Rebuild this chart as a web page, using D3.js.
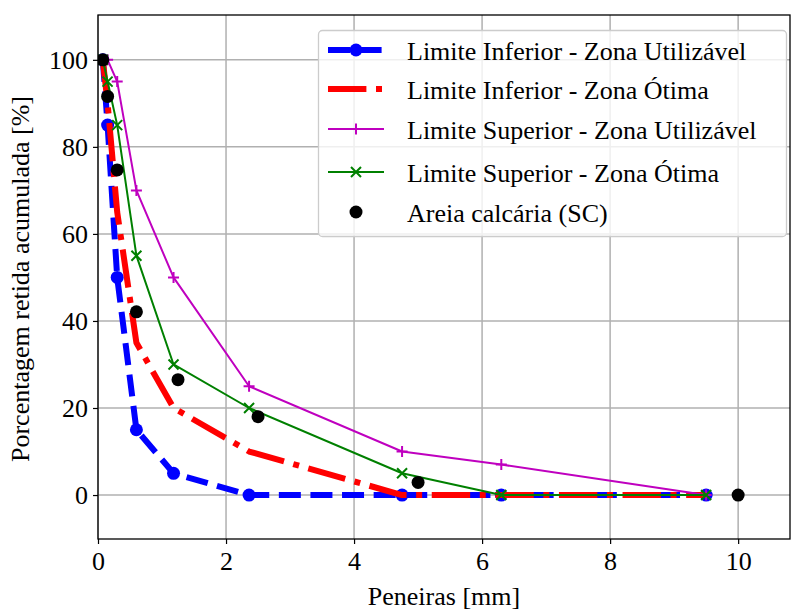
<!DOCTYPE html>
<html>
<head>
<meta charset="utf-8">
<script src="https://cdn.jsdelivr.net/npm/d3@7"></script>
<style>
body { margin: 0; background: #fff; }
svg, svg text { font-family: "Liberation Serif", "Times New Roman", Times, "DejaVu Serif", serif !important; }
</style>
</head>
<body>
<script>
var width = 791;
var height = 610;

var margin = {top: 15, left: 98, right: 1, bottom: 71};

// peneiras (mm)
var sieves = [0.075, 0.15, 0.3, 0.6, 1.18, 2.36, 4.75, 6.3, 9.5];

var infUtil = [100, 85, 50, 15, 5, 0, 0, 0, 0];
var infOtima = [100, 90, 65, 35, 20, 10, 0, 0, 0];
var supUtil = [100, 100, 95, 70, 50, 25, 10, 7, 0];
var supOtima = [100, 95, 85, 55, 30, 20, 5, 0, 0];

var sandX = [0.075, 0.15, 0.3, 0.6, 1.25, 2.5, 5, 10];
var sandY = [100, 91.6, 74.7, 42.1, 26.5, 18, 2.9, 0];

var xTicks = [0, 2, 4, 6, 8, 10];
var yTicks = [0, 20, 40, 60, 80, 100];

var serif = "'Liberation Serif', 'Times New Roman', Times, 'DejaVu Serif', serif";
var fontSize = 26;

var svg = d3.select("body")
  .append("svg")
  .attr("width", width)
  .attr("height", height)
  .attr("font-family", serif);

var xScale = d3.scaleLinear()
  .domain([0, 10.81])
  .range([margin.left, width - margin.right]);

var yScale = d3.scaleLinear()
  .domain([-10.1, 110.3])
  .range([height - margin.bottom, margin.top]);

// grid
svg.append("g")
  .selectAll("line")
  .data(xTicks)
  .enter().append("line")
  .attr("x1", function(d) { return xScale(d); })
  .attr("x2", function(d) { return xScale(d); })
  .attr("y1", margin.top)
  .attr("y2", height - margin.bottom)
  .attr("stroke", "#b0b0b0")
  .attr("stroke-width", 1.5);

svg.append("g")
  .selectAll("line")
  .data(yTicks)
  .enter().append("line")
  .attr("x1", margin.left)
  .attr("x2", width - margin.right)
  .attr("y1", function(d) { return yScale(d); })
  .attr("y2", function(d) { return yScale(d); })
  .attr("stroke", "#b0b0b0")
  .attr("stroke-width", 1.5);

svg.append("clipPath")
  .attr("id", "plotclip")
  .append("rect")
  .attr("x", margin.left)
  .attr("y", margin.top)
  .attr("width", width - margin.right - margin.left)
  .attr("height", height - margin.bottom - margin.top);

var plot = svg.append("g").attr("clip-path", "url(#plotclip)");

var line = d3.line()
  .x(function(d) { return xScale(d[0]); })
  .y(function(d) { return yScale(d[1]); });

function pairs(xs, ys) {
  return xs.map(function(x, i) { return [x, ys[i]]; });
}

var series = [
  {name: "Limite Inferior - Zona Utilizável", ys: infUtil, color: "blue", lw: 6, dash: "22,9.6", marker: "o"},
  {name: "Limite Inferior - Zona Ótima", ys: infOtima, color: "red", lw: 6, dash: "38.4,9.6,6,9.6", marker: null},
  {name: "Limite Superior - Zona Utilizável", ys: supUtil, color: "#bf00bf", lw: 2, dash: null, marker: "+"},
  {name: "Limite Superior - Zona Ótima", ys: supOtima, color: "green", lw: 2, dash: null, marker: "x"}
];

function drawMarker(g, type, color, cx, cy) {
  if (type === "o" || type === "dot") {
    g.append("circle").attr("cx", cx).attr("cy", cy).attr("r", 6.5).attr("fill", color);
  } else if (type === "+") {
    g.append("path")
      .attr("d", "M" + (cx - 5.5) + "," + cy + "h11M" + cx + "," + (cy - 5.5) + "v11")
      .attr("stroke", color).attr("stroke-width", 2).attr("fill", "none");
  } else if (type === "x") {
    g.append("path")
      .attr("d", "M" + (cx - 5) + "," + (cy - 5) + "l10,10M" + (cx - 5) + "," + (cy + 5) + "l10,-10")
      .attr("stroke", color).attr("stroke-width", 2).attr("fill", "none");
  }
}

series.forEach(function(s) {
  var pts = pairs(sieves, s.ys);
  plot.append("path")
    .datum(pts)
    .attr("d", line)
    .attr("fill", "none")
    .attr("stroke", s.color)
    .attr("stroke-width", s.lw)
    .attr("stroke-linejoin", "round")
    .attr("stroke-dasharray", s.dash);
  if (s.marker) {
    pts.forEach(function(p) {
      drawMarker(plot, s.marker, s.color, xScale(p[0]), yScale(p[1]));
    });
  }
});

pairs(sandX, sandY).forEach(function(p) {
  drawMarker(plot, "dot", "black", xScale(p[0]), yScale(p[1]));
});

// axes
var xAxis = svg.append("g")
  .attr("transform", "translate(0," + (height - margin.bottom) + ")")
  .call(d3.axisBottom(xScale).tickValues(xTicks).tickSize(5).tickPadding(8).tickFormat(d3.format("d")));

var yAxis = svg.append("g")
  .attr("transform", "translate(" + margin.left + ",0)")
  .call(d3.axisLeft(yScale).tickValues(yTicks).tickSize(5).tickPadding(5).tickFormat(d3.format("d")));

[xAxis, yAxis].forEach(function(a) {
  a.attr("font-family", serif).attr("font-size", fontSize);
  a.select(".domain").remove();
  a.selectAll(".tick line").attr("stroke", "black").attr("stroke-width", 1.2);
  a.selectAll(".tick text").attr("fill", "black");
});

// spines
svg.append("rect")
  .attr("x", margin.left)
  .attr("y", margin.top)
  .attr("width", width - margin.right - margin.left)
  .attr("height", height - margin.bottom - margin.top)
  .attr("fill", "none")
  .attr("stroke", "black")
  .attr("stroke-width", 1.3);

svg.append("text")
  .attr("x", (margin.left + width - margin.right) / 2)
  .attr("y", 605)
  .attr("text-anchor", "middle")
  .attr("font-size", fontSize)
  .text("Peneiras [mm]");

svg.append("text")
  .attr("transform", "translate(29," + ((margin.top + height - margin.bottom) / 2 + 2) + ") rotate(-90)")
  .attr("text-anchor", "middle")
  .attr("font-size", fontSize)
  .text("Porcentagem retida acumulada [%]");

// legend
var legend = svg.append("g");
legend.append("rect")
  .attr("x", 318.5)
  .attr("y", 30.5)
  .attr("width", 468)
  .attr("height", 206)
  .attr("rx", 4)
  .attr("fill", "white")
  .attr("fill-opacity", 0.8)
  .attr("stroke", "#cccccc")
  .attr("stroke-width", 1.3);

var legendItems = series.concat([{name: "Areia calcária (SC)", color: "black", lw: 0, dash: null, marker: "dot"}]);
var rowY = [50, 89, 129, 172, 212];

legendItems.forEach(function(s, i) {
  var y = rowY[i];
  if (s.lw > 0) {
    legend.append("line")
      .attr("x1", 328).attr("x2", 384)
      .attr("y1", y).attr("y2", y)
      .attr("stroke", s.color)
      .attr("stroke-width", s.lw)
      .attr("stroke-dasharray", s.dash);
  }
  if (s.marker) drawMarker(legend, s.marker, s.color, 356, y);
  legend.append("text")
    .attr("x", 407)
    .attr("y", y + 9.5)
    .attr("font-size", fontSize)
    .text(s.name);
});
</script>
</body>
</html>
